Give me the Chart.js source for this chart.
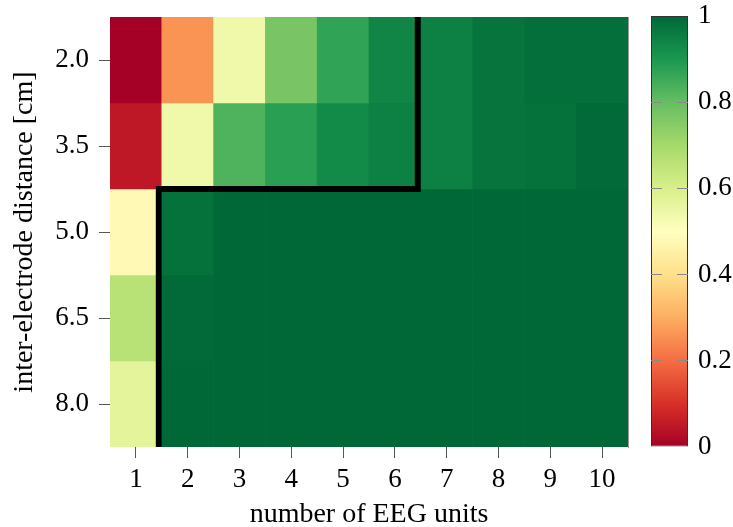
<!DOCTYPE html>
<html>
<head>
<meta charset="utf-8">
<script src="https://cdn.jsdelivr.net/npm/chart.js@4.4.1/dist/chart.umd.min.js"></script>
<style>
  body { margin: 0; background: #fff; }
  #wrap { position: relative; width: 733px; height: 527px; }
  #wrap canvas { position: absolute; left: 0; top: 0; }
</style>
</head>
<body>
<div id="wrap">
  <canvas id="heatmap" width="733" height="527"></canvas>
  <canvas id="colorbar" width="733" height="527"></canvas>
</div>
<script>
// number of EEG units (columns)
const units = [1, 2, 3, 4, 5, 6, 7, 8, 9, 10];
// inter-electrode distance (rows, top to bottom)
const distances = ['2.0', '3.5', '5.0', '6.5', '8.0'];
// values per row
const row20 = [0.00, 0.26, 0.54, 0.77, 0.87, 0.94, 0.95, 0.975, 0.985, 0.985];
const row35 = [0.05, 0.54, 0.83, 0.88, 0.93, 0.95, 0.95, 0.975, 0.98, 0.995];
const row50 = [0.48, 0.98, 1.00, 1.00, 1.00, 1.00, 1.00, 1.00, 1.00, 1.00];
const row65 = [0.665, 0.995, 1.00, 1.00, 1.00, 1.00, 1.00, 1.00, 1.00, 1.00];
const row80 = [0.57, 1.00, 1.00, 1.00, 1.00, 1.00, 1.00, 1.00, 1.00, 1.00];
const rows = [row20, row35, row50, row65, row80];
// black boundary (x in units, y in row index)
const boundaryX = [6.5, 6.5, 1.5, 1.5];
const boundaryY = [0, 2, 2, 5];
// colorbar ticks
const cbTicks = [0, 0.2, 0.4, 0.6, 0.8, 1];

// RdYlGn
const rdylgn = ['#a50026', '#d73027', '#f46d43', '#fdae61', '#fee08b', '#ffffbf',
                '#d9ef8b', '#a6d96a', '#66bd63', '#1a9850', '#006837'];

function hexToRgb(h) {
  return [parseInt(h.slice(1, 3), 16), parseInt(h.slice(3, 5), 16), parseInt(h.slice(5, 7), 16)];
}
function colormap(v) {
  v = Math.max(0, Math.min(1, v));
  const p = v * (rdylgn.length - 1);
  const i = Math.min(Math.floor(p), rdylgn.length - 2);
  const t = p - i;
  const a = hexToRgb(rdylgn[i]), b = hexToRgb(rdylgn[i + 1]);
  const c = a.map((x, k) => Math.round(x + (b[k] - x) * t));
  return 'rgb(' + c.join(',') + ')';
}

// no extra padding from tick labels, so the plot area stays where we put it
function noPad(scale) {
  scale.paddingTop = 0;
  scale.paddingBottom = 0;
  scale.paddingLeft = 0;
  scale.paddingRight = 0;
}

Chart.defaults.font.family = '"Liberation Serif", "DejaVu Serif", serif';
Chart.defaults.font.size = 27;
Chart.defaults.color = '#000';

const datasets = rows.map((vals, r) => ({
  type: 'bar',
  data: units.map(u => ({ x: u, y: [r, r + 1] })),
  backgroundColor: ctx => colormap(rows[ctx.datasetIndex][ctx.dataIndex]),
  borderWidth: 0,
  grouped: false,
  categoryPercentage: 1,
  barPercentage: 1,
  order: 1
}));

datasets.push({
  type: 'line',
  data: boundaryX.map((x, i) => ({ x: x, y: boundaryY[i] })),
  borderColor: '#000',
  borderWidth: 6,
  borderCapStyle: 'butt',
  borderJoinStyle: 'miter',
  pointRadius: 0,
  tension: 0,
  fill: false,
  order: 0
});

// the boundary line sits just left of the cell edges in the original
const nudgeLine = {
  id: 'nudgeLine',
  beforeDatasetDraw(chart, args) {
    if (args.meta.type === 'line') { chart.ctx.save(); chart.ctx.translate(-3, 0); }
  },
  afterDatasetDraw(chart, args) {
    if (args.meta.type === 'line') chart.ctx.restore();
  }
};

const heatmap = new Chart(document.getElementById('heatmap'), {
  type: 'bar',
  data: { datasets: datasets },
  plugins: [nudgeLine],
  options: {
    responsive: false,
    animation: false,
    devicePixelRatio: 1,
    layout: { padding: { left: 0, right: 105, top: 17, bottom: 0 } },
    plugins: { legend: { display: false }, tooltip: { enabled: false } },
    scales: {
      x: {
        type: 'linear',
        min: 0.5,
        max: 10.5,
        offset: false,
        afterBuildTicks: scale => { scale.ticks = units.map(u => ({ value: u })); },
        afterFit: scale => { scale.height = 80; noPad(scale); },
        ticks: { padding: 6, maxRotation: 0 },
        grid: { drawOnChartArea: false, offset: false, tickLength: 11, color: '#555', lineWidth: 1 },
        border: { display: false },
        title: { display: true, text: 'number of EEG units', font: { size: 28 }, padding: { top: 0, bottom: -4 } }
      },
      y: {
        type: 'linear',
        min: 0,
        max: 5,
        reverse: true,
        afterBuildTicks: scale => { scale.ticks = distances.map((d, i) => ({ value: i + 0.5 })); },
        afterFit: scale => { scale.width = 110; noPad(scale); },
        ticks: { padding: 10, callback: (v, i) => distances[i] },
        grid: { drawOnChartArea: false, tickLength: 11, color: '#555', lineWidth: 1 },
        border: { display: false },
        title: { display: true, text: 'inter-electrode distance [cm]', font: { size: 28 }, padding: { top: 8, bottom: 0 } }
      },
      yRight: {
        position: 'right',
        min: 0,
        max: 5,
        afterFit: scale => { scale.width = 0; noPad(scale); },
        ticks: { display: false },
        grid: { display: false, drawTicks: false },
        border: { display: true, color: '#999', width: 1 }
      }
    }
  }
});

// Colorbar
const colorbar = new Chart(document.getElementById('colorbar'), {
  type: 'bar',
  data: {
    labels: [''],
    datasets: [{
      data: [[0, 1]],
      backgroundColor: ctx => {
        const area = ctx.chart.chartArea;
        if (!area) return null;
        const g = ctx.chart.ctx.createLinearGradient(0, area.bottom, 0, area.top);
        rdylgn.forEach((c, i) => g.addColorStop(i / (rdylgn.length - 1), c));
        return g;
      },
      borderColor: '#333',
      borderWidth: 1,
      borderSkipped: false,
      categoryPercentage: 1,
      barPercentage: 1,
      inflateAmount: 0
    }]
  },
  options: {
    responsive: false,
    animation: false,
    devicePixelRatio: 1,
    layout: { padding: { left: 651, right: 0, top: 16, bottom: 80 } },
    plugins: { legend: { display: false }, tooltip: { enabled: false } },
    scales: {
      x: { display: false },
      y: {
        position: 'right',
        min: 0,
        max: 1,
        afterBuildTicks: scale => { scale.ticks = cbTicks.map(v => ({ value: v })); },
        afterFit: scale => { scale.width = 45; noPad(scale); },
        ticks: { padding: 10, callback: v => String(Math.round(v * 10) / 10) },
        grid: {
          z: 1,
          drawTicks: false,
          color: ctx => (ctx.tick && ctx.tick.value > 0 && ctx.tick.value < 1) ? '#8a8a8a' : 'rgba(0,0,0,0)',
          lineWidth: 1
        },
        border: { display: false, dash: [11, 15] }
      }
    }
  }
});
</script>
</body>
</html>
